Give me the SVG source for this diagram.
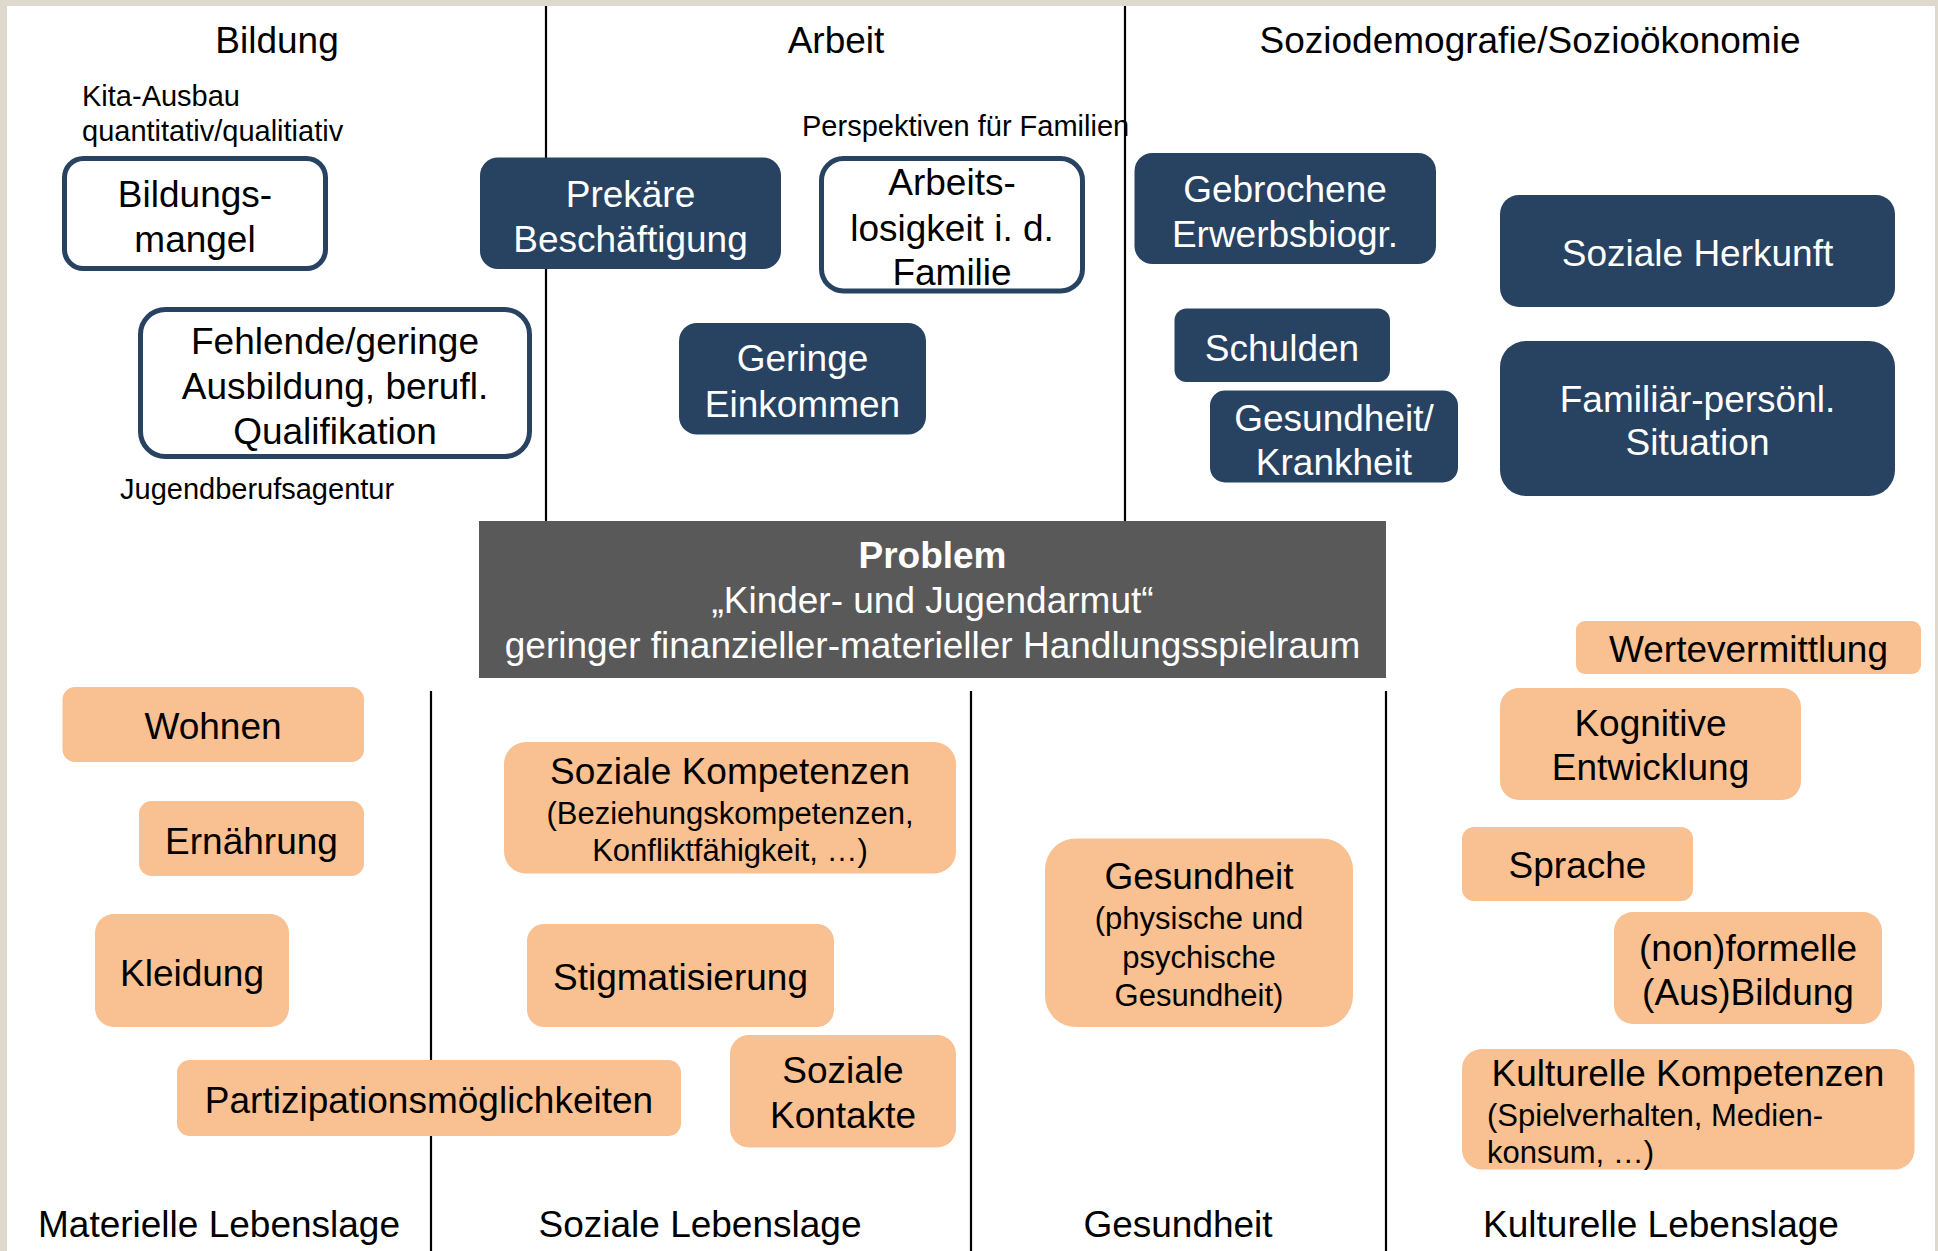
<svg xmlns="http://www.w3.org/2000/svg" width="1938" height="1251" viewBox="0 0 1938 1251">
<style>
text{font-family:"Liberation Sans",Arial,sans-serif;fill:#000}
.t{font-size:37px;text-anchor:middle}
.sub{font-size:31px;text-anchor:middle}
.sl{font-size:31px;text-anchor:start}
.s{font-size:29px;text-anchor:start}
.wt{fill:#fff}
.b{font-weight:bold}
.nav{fill:#284262}
.out{fill:#fff;stroke:#284262;stroke-width:5}
.org{fill:#f9c091}
.div{stroke:#000;stroke-width:2.2;fill:none}
</style>
<rect x="0" y="0" width="1938" height="1251" fill="#dfd8cc"/>
<rect x="7" y="6" width="1928" height="1245" fill="#fff"/>

<g id="connectors">
<line class="div" x1="546" y1="6" x2="546" y2="521"/>
<line class="div" x1="1125" y1="6" x2="1125" y2="521"/>
<line class="div" x1="431" y1="691" x2="431" y2="1251"/>
<line class="div" x1="971" y1="691" x2="971" y2="1251"/>
<line class="div" x1="1386" y1="691" x2="1386" y2="1251"/>
</g>

<g id="headers">
<text class="t" x="277" y="53">Bildung</text>
<text class="t" x="836" y="53">Arbeit</text>
<text class="t" x="1530" y="53">Soziodemografie/Sozioökonomie</text>
<text class="t" x="219" y="1237">Materielle Lebenslage</text>
<text class="t" x="700" y="1237">Soziale Lebenslage</text>
<text class="t" x="1178" y="1237">Gesundheit</text>
<text class="t" x="1661" y="1237">Kulturelle Lebenslage</text>
</g>

<g id="notes">
<text class="s" x="82" y="106">Kita-Ausbau</text>
<text class="s" x="82" y="141">quantitativ/qualitiativ</text>
<text class="s" x="120" y="499">Jugendberufsagentur</text>
<text class="s" x="802" y="136">Perspektiven für Familien</text>
</g>

<g id="bildungsmangel">
<rect class="out" x="64.5" y="158.5" width="261" height="110" rx="19"/>
<text class="t" x="195" y="207">Bildungs-</text>
<text class="t" x="195" y="252">mangel</text>
</g>
<g id="ausbildung">
<rect class="out" x="140.5" y="309.5" width="389" height="147" rx="25"/>
<text class="t" x="335" y="354">Fehlende/geringe</text>
<text class="t" x="335" y="399">Ausbildung, berufl.</text>
<text class="t" x="335" y="444">Qualifikation</text>
</g>
<g id="arbeitslosigkeit">
<rect class="out" x="821.5" y="158.5" width="261" height="132.5" rx="22"/>
<text class="t" x="952" y="195">Arbeits-</text>
<text class="t" x="952" y="241">losigkeit i. d.</text>
<text class="t" x="952" y="285">Familie</text>
</g>
<g id="prekaer">
<rect class="nav" x="480" y="157.5" width="301" height="111.5" rx="18"/>
<text class="t wt" x="630.5" y="207">Prekäre</text>
<text class="t wt" x="630.5" y="252">Beschäftigung</text>
</g>
<g id="einkommen">
<rect class="nav" x="679" y="323" width="247" height="111.5" rx="18"/>
<text class="t wt" x="802.5" y="371">Geringe</text>
<text class="t wt" x="802.5" y="417">Einkommen</text>
</g>
<g id="erwerbsbiografie">
<rect class="nav" x="1134.5" y="153" width="301.5" height="111" rx="18"/>
<text class="t wt" x="1285" y="202">Gebrochene</text>
<text class="t wt" x="1285" y="247">Erwerbsbiogr.</text>
</g>
<g id="schulden">
<rect class="nav" x="1174.5" y="308.5" width="215.5" height="73.5" rx="12"/>
<text class="t wt" x="1282" y="361">Schulden</text>
</g>
<g id="krankheit">
<rect class="nav" x="1210" y="390.5" width="248" height="92" rx="15"/>
<text class="t wt" x="1334" y="431">Gesundheit/</text>
<text class="t wt" x="1334" y="475">Krankheit</text>
</g>
<g id="herkunft">
<rect class="nav" x="1500" y="195" width="395" height="112" rx="19"/>
<text class="t wt" x="1697.5" y="266">Soziale Herkunft</text>
</g>
<g id="familiaer">
<rect class="nav" x="1500" y="341" width="395" height="155" rx="26"/>
<text class="t wt" x="1697.5" y="412">Familiär-persönl.</text>
<text class="t wt" x="1697.5" y="455">Situation</text>
</g>

<g id="problem">
<rect x="479" y="521" width="907" height="157" fill="#595959"/>
<text class="t wt b" x="932.5" y="568">Problem</text>
<text class="t wt" x="932.5" y="613">„Kinder- und Jugendarmut“</text>
<text class="t wt" x="932.5" y="658">geringer finanzieller-materieller Handlungsspielraum</text>
</g>

<g id="wohnen">
<rect class="org" x="62.5" y="687" width="301.5" height="75" rx="12.5"/>
<text class="t" x="213" y="739">Wohnen</text>
</g>
<g id="ernaehrung">
<rect class="org" x="139" y="801" width="225" height="75" rx="12.5"/>
<text class="t" x="251.5" y="854">Ernährung</text>
</g>
<g id="kleidung">
<rect class="org" x="95" y="914" width="194" height="113" rx="19"/>
<text class="t" x="192" y="986">Kleidung</text>
</g>
<g id="partizipation">
<rect class="org" x="177" y="1060" width="504" height="76" rx="12.7"/>
<text class="t" x="429" y="1113">Partizipationsmöglichkeiten</text>
</g>
<g id="sozialkompetenz">
<rect class="org" x="504" y="742" width="452" height="131.5" rx="22"/>
<text class="t" x="730" y="784">Soziale Kompetenzen</text>
<text class="sub" x="730" y="824">(Beziehungskompetenzen,</text>
<text class="sub" x="730" y="861">Konfliktfähigkeit, …)</text>
</g>
<g id="stigmatisierung">
<rect class="org" x="527" y="924" width="307" height="103" rx="17"/>
<text class="t" x="680.5" y="990">Stigmatisierung</text>
</g>
<g id="kontakte">
<rect class="org" x="730" y="1035" width="226" height="112.5" rx="19"/>
<text class="t" x="843" y="1083">Soziale</text>
<text class="t" x="843" y="1128">Kontakte</text>
</g>
<g id="gesundheit">
<rect class="org" x="1045" y="838.5" width="308" height="188.5" rx="31"/>
<text class="t" x="1199" y="889">Gesundheit</text>
<text class="sub" x="1199" y="929">(physische und</text>
<text class="sub" x="1199" y="968">psychische</text>
<text class="sub" x="1199" y="1006">Gesundheit)</text>
</g>
<g id="werte">
<rect class="org" x="1576" y="621" width="345" height="53" rx="9"/>
<text class="t" x="1748.5" y="662">Wertevermittlung</text>
</g>
<g id="kognitiv">
<rect class="org" x="1500" y="688" width="301" height="112" rx="19"/>
<text class="t" x="1650.5" y="736">Kognitive</text>
<text class="t" x="1650.5" y="780">Entwicklung</text>
</g>
<g id="sprache">
<rect class="org" x="1462" y="827" width="231" height="74" rx="12"/>
<text class="t" x="1577.5" y="878">Sprache</text>
</g>
<g id="ausbildung2">
<rect class="org" x="1614" y="912" width="268" height="112" rx="19"/>
<text class="t" x="1748" y="961">(non)formelle</text>
<text class="t" x="1748" y="1005">(Aus)Bildung</text>
</g>
<g id="kulturkompetenz">
<rect class="org" x="1462" y="1049" width="452.5" height="120.5" rx="20"/>
<text class="t" x="1688" y="1086">Kulturelle Kompetenzen</text>
<text class="sl" x="1487" y="1126">(Spielverhalten, Medien-</text>
<text class="sl" x="1487" y="1163">konsum, …)</text>
</g>
</svg>
